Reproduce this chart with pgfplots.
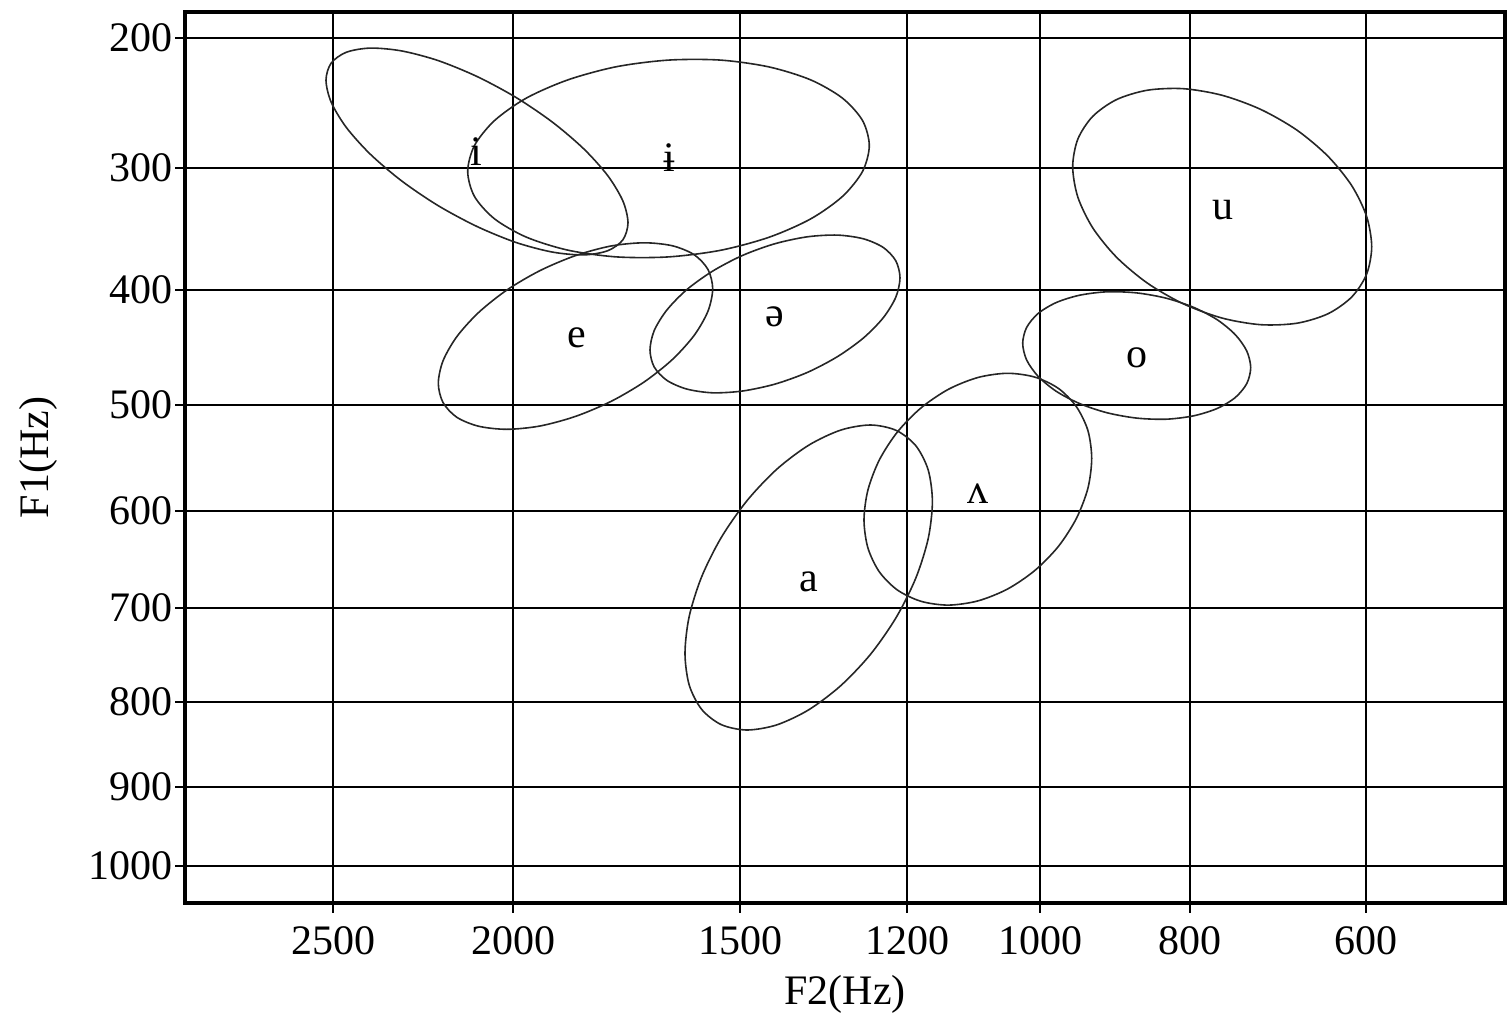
\documentclass[border=0pt]{standalone}
\usepackage{fontspec}
\setmainfont{Liberation Serif}
\usepackage{pgfplots}
\pgfplotsset{compat=1.18}

% plot coordinates are the chart's display positions (F2 and F1 on a Bark-like scale)
\begin{document}
\begin{tikzpicture}
\path[use as bounding box] (-46.25pt,-28.25pt) rectangle (330.75pt,225.75pt);
\begin{axis}[
  scale only axis,
  width=330pt, height=222.75pt,
  xmin=185, xmax=1505, ymin=12, ymax=903,
  y dir=reverse,
  axis line style={line width=1pt},
  xtick={333,513,740,907,1040,1190,1366},
  xticklabels={2500,2000,1500,1200,1000,800,600},
  ytick={38,168,290,405,511,608,702,787,866},
  yticklabels={200,300,400,500,600,700,800,900,1000},
  xtick pos=bottom, ytick pos=left,
  tick align=outside, major tick length=2.4pt,
  tick style={black, line width=0.45pt},
  grid=major,
  grid style={black, line width=0.45pt},
  /pgf/number format/assume math mode=true,
  ticklabel style={font=\fontsize{10.5}{12}\selectfont},
  yticklabel style={xshift=2.8pt},
  xlabel={F2(Hz)}, ylabel={F1(Hz)},
  label style={font=\fontsize{10.5}{12}\selectfont},
  xlabel style={at={(axis description cs:0.5,-0.103)}, anchor=center},
  ylabel style={at={(axis description cs:-0.111,0.5)}, anchor=center},
  every axis plot/.append style={black!85, line width=0.4pt},
  clip=false,
]
% i
\addplot[smooth cycle] coordinates {
  (628,222.8) (622.9,239.8) (607.8,250.7) (583.8,254.9) (552.5,252.1) (516.1,242.5)
  (477,226.5) (437.9,205.5) (401.5,180.8) (370.2,154.1) (346.2,127.3) (331.1,102.0)
  (326,80.2) (331.1,63.2) (346.2,52.3) (370.2,48.1) (401.5,50.9) (437.9,60.5)
  (477,76.5) (516.1,97.5) (552.5,122.2) (583.8,148.9) (607.8,175.7) (622.9,201.0)
};
% barred i
\addplot[smooth cycle] coordinates {
  (869.3,145.6) (862.5,171.5) (842.4,196.5) (810.5,219.0) (768.9,237.3) (720.5,250.3)
  (668.5,256.9) (616.5,256.9) (568.1,250.2) (526.5,237.2) (494.6,218.9) (474.5,196.5)
  (467.7,171.4) (474.5,145.5) (494.6,120.5) (526.5,98.0) (568.1,79.8) (616.5,66.7)
  (668.5,60.1) (720.5,60.1) (768.9,66.9) (810.5,79.8) (842.4,98.1) (862.5,120.5)
};
% e
\addplot[smooth cycle] coordinates {
  (712.7,288.7) (708.0,311.1) (694.3,335.2) (672.5,359.4) (644.1,382.0) (611.0,401.4)
  (575.5,416.4) (540.0,426.0) (506.9,429.3) (478.5,426.2) (456.7,417.2) (443.0,402.5)
  (438.3,383.3) (443.0,360.9) (456.7,336.8) (478.5,312.6) (506.9,290.0) (540.0,270.6)
  (575.5,255.6) (611.0,246.0) (644.1,242.8) (672.5,245.8) (694.3,254.8) (708.0,269.5)
};
% schwa
\addplot[smooth cycle] coordinates {
  (900,277.8) (895.8,297.2) (883.3,317.7) (863.4,338.0) (837.5,356.6) (807.4,372.4)
  (775,384.1) (742.6,391.0) (712.5,392.8) (686.6,389.0) (666.8,380.3) (654.2,367.0)
  (650,350) (654.2,330.6) (666.8,310.1) (686.6,289.8) (712.5,271.2) (742.6,255.4)
  (775,243.7) (807.4,236.8) (837.5,235.1) (863.4,238.8) (883.3,247.5) (895.8,260.8)
};
% u
\addplot[smooth cycle] coordinates {
  (1371.7,246.7) (1366.6,274.2) (1351.7,297.0) (1327.9,313.8) (1297.0,323.2) (1260.9,324.7)
  (1222.2,318.1) (1183.5,303.9) (1147.5,283.2) (1116.5,257.2) (1092.7,227.8) (1077.8,197.0)
  (1072.7,166.7) (1077.8,139.2) (1092.7,116.4) (1116.5,99.6) (1147.5,90.2) (1183.5,88.7)
  (1222.2,95.3) (1260.9,109.5) (1297.0,130.2) (1327.9,156.2) (1351.7,185.6) (1366.6,216.4)
};
% o
\addplot[smooth cycle] coordinates {
  (1250.7,367.7) (1246.8,383.5) (1235.4,397.4) (1217.3,408.4) (1193.7,415.8) (1166.2,419.2)
  (1136.7,418.1) (1107.2,412.8) (1079.7,403.6) (1056.1,391.2) (1038.0,376.2) (1026.6,359.9)
  (1022.7,343.3) (1026.6,327.5) (1038.0,313.6) (1056.1,302.6) (1079.7,295.2) (1107.2,291.8)
  (1136.7,292.9) (1166.2,298.2) (1193.7,307.4) (1217.3,319.8) (1235.4,334.8) (1246.8,351.1)
};
% a
\addplot[smooth cycle] coordinates {
  (932.4,501.7) (928.2,538.6) (915.8,578.1) (896.2,617.4) (870.6,654.2) (840.7,685.7)
  (808.7,709.8) (776.7,724.9) (746.9,730.0) (721.2,724.6) (701.6,709.3) (689.2,685.0)
  (685,653.3) (689.2,616.4) (701.6,576.9) (721.2,537.6) (746.9,500.8) (776.7,469.3)
  (808.7,445.2) (840.7,430.1) (870.6,425.0) (896.2,430.4) (915.8,445.7) (928.2,470.0)
};
% turned v
\addplot[smooth cycle] coordinates {
  (1091.7,458.4) (1087.9,488.3) (1076.4,518.4) (1058.4,546.4) (1034.8,570.5) (1007.4,589.1)
  (977.9,600.9) (948.4,605.1) (921.0,601.3) (897.4,590.0) (879.3,571.8) (867.9,547.9)
  (864,520) (867.9,490.1) (879.3,460.0) (897.4,432.0) (921.0,407.9) (948.4,389.3)
  (977.9,377.5) (1007.4,373.3) (1034.8,377.1) (1058.4,388.4) (1076.4,406.7) (1087.9,430.5)
};
% vowel labels
\addplot[draw=none, mark=none, nodes near coords, point meta=explicit symbolic,
  nodes near coords style={anchor=center, black, font=\fontsize{10.5}{12}\selectfont}]
  coordinates {
  (476.8,151.2)[i] (669.3,157.9)[ɨ] (576.7,338.3)[e] (775,316.7)[ə]
  (1222.7,210)[u] (1136.7,358.3)[o] (809.3,581.7)[a] (978.3,493.3)[ʌ]
};
\end{axis}
\end{tikzpicture}
\end{document}
